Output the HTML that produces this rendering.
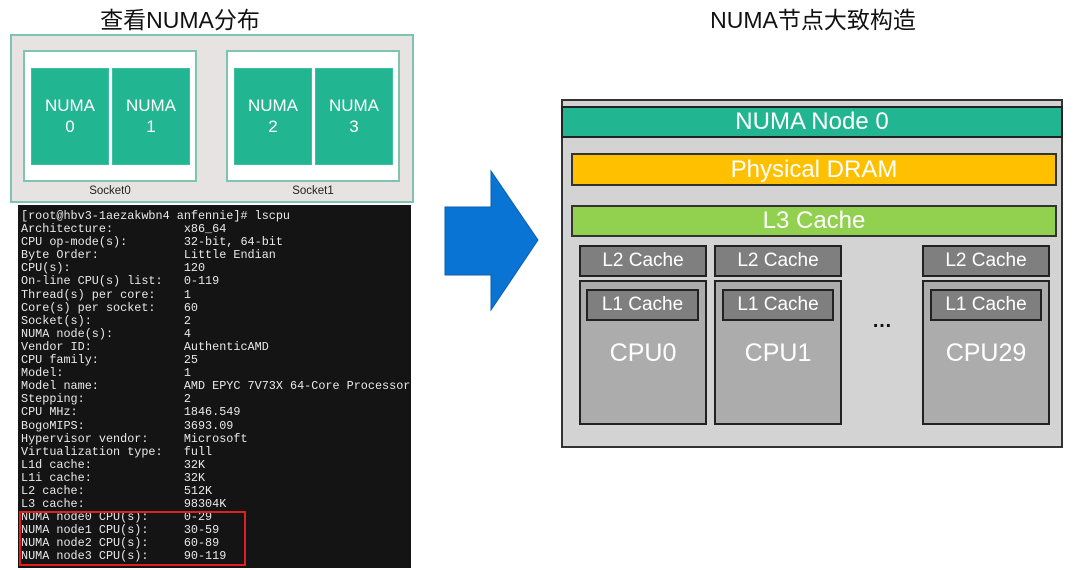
<!DOCTYPE html>
<html><head><meta charset="utf-8"><style>
*{margin:0;padding:0;box-sizing:border-box}
body{width:1080px;height:570px;background:#fff;position:relative;overflow:hidden;font-family:"Liberation Sans","Noto Sans CJK SC",sans-serif}
.a{position:absolute}
.t{color:#fff;text-align:center;display:flex;align-items:center;justify-content:center}
.numa{background:#21b591;border:1px solid #3cc09e;color:#fff;font-size:17px;line-height:21px;text-align:center;padding-top:26px}
.c{font-family:"Liberation Sans","DejaVu Sans",sans-serif}
pre{font-family:"Liberation Mono",monospace;font-size:11.8px;line-height:13.1px;color:#e8e8e8}
.box{border:2px solid #222}
</style></head><body>
<div class="a" style="left:0;top:1px;width:360px;text-align:center;font-size:23px;color:#111">查看NUMA分布</div>
<div class="a" style="left:640px;top:1px;width:346px;text-align:center;font-size:23px;color:#111">NUMA节点大致构造</div>

<div class="a" style="left:10px;top:34px;width:404px;height:169px;background:#e8e3e3;border:2px solid #7fc4b0"></div>
<div class="a" style="left:23px;top:50px;width:174px;height:132px;background:#fff;border:2px solid #7fc4b0"></div>
<div class="a" style="left:226px;top:50px;width:174px;height:132px;background:#fff;border:2px solid #7fc4b0"></div>
<div class="a numa" style="left:31px;top:68px;width:78px;height:97px">NUMA<br>0</div>
<div class="a numa" style="left:112px;top:68px;width:78px;height:97px">NUMA<br>1</div>
<div class="a numa" style="left:234px;top:68px;width:78px;height:97px">NUMA<br>2</div>
<div class="a numa" style="left:315px;top:68px;width:78px;height:97px">NUMA<br>3</div>
<div class="a" style="left:23px;top:185px;width:174px;text-align:center;font-size:11.5px;color:#222">Socket0</div>
<div class="a" style="left:226px;top:185px;width:174px;text-align:center;font-size:11.5px;color:#222">Socket1</div>

<div class="a" style="left:18px;top:205px;width:393px;height:363px;background:#141414"></div>
<pre class="a" style="left:21px;top:210px">[root@hbv3-1aezakwbn4 anfennie]# lscpu
Architecture:          x86_64
CPU op-mode(s):        32-bit, 64-bit
Byte Order:            Little Endian
CPU(s):                120
On-line CPU(s) list:   0-119
Thread(s) per core:    1
Core(s) per socket:    60
Socket(s):             2
NUMA node(s):          4
Vendor ID:             AuthenticAMD
CPU family:            25
Model:                 1
Model name:            AMD EPYC 7V73X 64-Core Processor
Stepping:              2
CPU MHz:               1846.549
BogoMIPS:              3693.09
Hypervisor vendor:     Microsoft
Virtualization type:   full
L1d cache:             32K
L1i cache:             32K
L2 cache:              512K
L3 cache:              98304K
NUMA node0 CPU(s):     0-29
NUMA node1 CPU(s):     30-59
NUMA node2 CPU(s):     60-89
NUMA node3 CPU(s):     90-119</pre>
<div class="a" style="left:19px;top:511px;width:227px;height:55px;border:2px solid #e02020"></div>

<svg class="a" style="left:0;top:0" width="1080" height="570"><polygon points="445,207 491,207 491,171 538,240 491,310 491,275 445,275" fill="#0a74d4" stroke="#0b5fae" stroke-width="1"/></svg>

<div class="a c" style="left:561px;top:99px;width:502px;height:349px;background:#d3d3d3;border:2px solid #333"></div>
<div class="a t c" style="left:561px;top:106px;width:502px;height:32px;background:#21b591;border:2px solid #222;font-size:24px">NUMA Node 0</div>
<div class="a t c" style="left:571px;top:153px;width:486px;height:33px;background:#ffc000;border:2px solid #333;font-size:24px">Physical DRAM</div>
<div class="a t c" style="left:571px;top:205px;width:486px;height:32px;background:#92d050;border:2px solid #333;font-size:24px">L3 Cache</div>

<div class="a t c box" style="left:579px;top:245px;width:128px;height:32px;background:#7f7f7f;font-size:19px">L2 Cache</div>
<div class="a t c box" style="left:714px;top:245px;width:128px;height:32px;background:#7f7f7f;font-size:19px">L2 Cache</div>
<div class="a t c box" style="left:922px;top:245px;width:128px;height:32px;background:#7f7f7f;font-size:19px">L2 Cache</div>

<div class="a box" style="left:579px;top:280px;width:128px;height:145px;background:#acacac"></div>
<div class="a box" style="left:714px;top:280px;width:128px;height:145px;background:#acacac"></div>
<div class="a box" style="left:922px;top:280px;width:128px;height:145px;background:#acacac"></div>
<div class="a t c box" style="left:586px;top:289px;width:113px;height:32px;background:#7f7f7f;font-size:19px">L1 Cache</div>
<div class="a t c box" style="left:722px;top:289px;width:112px;height:32px;background:#7f7f7f;font-size:19px">L1 Cache</div>
<div class="a t c box" style="left:930px;top:289px;width:112px;height:32px;background:#7f7f7f;font-size:19px">L1 Cache</div>
<div class="a t c" style="left:579px;top:337px;width:128px;height:32px;font-size:25px">CPU0</div>
<div class="a t c" style="left:714px;top:337px;width:128px;height:32px;font-size:25px">CPU1</div>
<div class="a t c" style="left:922px;top:337px;width:128px;height:32px;font-size:25px">CPU29</div>
<div class="a c" style="left:862px;top:310px;width:40px;text-align:center;font-size:20px;font-weight:bold;color:#111">…</div>
</body></html>
